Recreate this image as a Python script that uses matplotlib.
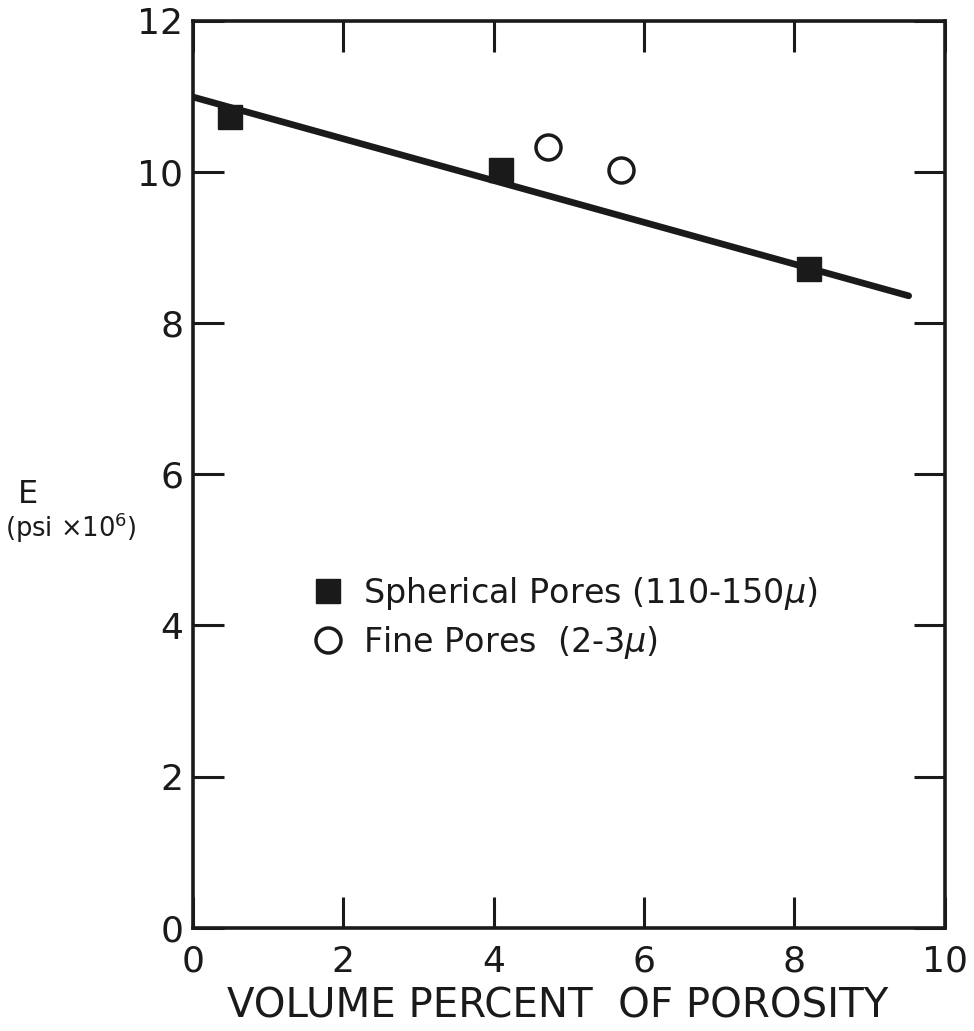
import matplotlib.pyplot as plt

# data
sph_x = [0.5, 4.1, 8.2]
sph_y = [10.73, 10.02, 8.72]
fine_x = [4.72, 5.70]
fine_y = [10.33, 10.02]
fit_x = [0.0, 9.52]
fit_y = [10.99, 8.36]

x_ticks = [0, 2, 4, 6, 8, 10]
y_ticks = [0, 2, 4, 6, 8, 10, 12]

plt.rcParams['font.family'] = ['DejaVu Sans']
ink = '#1a1a1a'

fig = plt.figure(figsize=(9.74, 10.31), dpi=100)
ax = fig.add_axes([0.198, 0.100, 0.772, 0.880])

ax.plot(fit_x, fit_y, color=ink, lw=4.8, solid_capstyle='round', zorder=2)
ax.plot(sph_x, sph_y, ls='none', marker='s', ms=17, color=ink,
        label='Spherical Pores (110-150$\\mu$)', zorder=3)
ax.plot(fine_x, fine_y, ls='none', marker='o', ms=18, mfc='white', mec=ink,
        mew=2.5, label='Fine Pores  (2-3$\\mu$)', zorder=3)

ax.set_xlim(0, 10)
ax.set_ylim(0, 12)
ax.set_xticks(x_ticks)
ax.set_yticks(y_ticks)
ax.tick_params(direction='in', length=22, width=2.2, top=True, right=True,
               labelsize=26, pad=12, color=ink, labelcolor=ink)
ax.tick_params(axis='y', pad=7)
for sp in ax.spines.values():
    sp.set_linewidth(2.6)
    sp.set_color(ink)

ax.set_xlabel('VOLUME PERCENT  OF POROSITY', fontsize=29, color=ink, labelpad=3)
ax.xaxis.set_label_coords(0.485, -0.065)

fig.text(0.029, 0.520, 'E', fontsize=23, color=ink, ha='center', va='center')
fig.text(0.073, 0.488, '(psi $\\times$10$^{6}$)', fontsize=18.5, color=ink,
         ha='center', va='center')

ax.legend(loc='upper left', bbox_to_anchor=(0.12, 0.422), frameon=False,
          fontsize=24, handletextpad=0.6, labelspacing=0.35, handlelength=0.9,
          labelcolor=ink)

fig.savefig('out.png', dpi=100, facecolor='white')
